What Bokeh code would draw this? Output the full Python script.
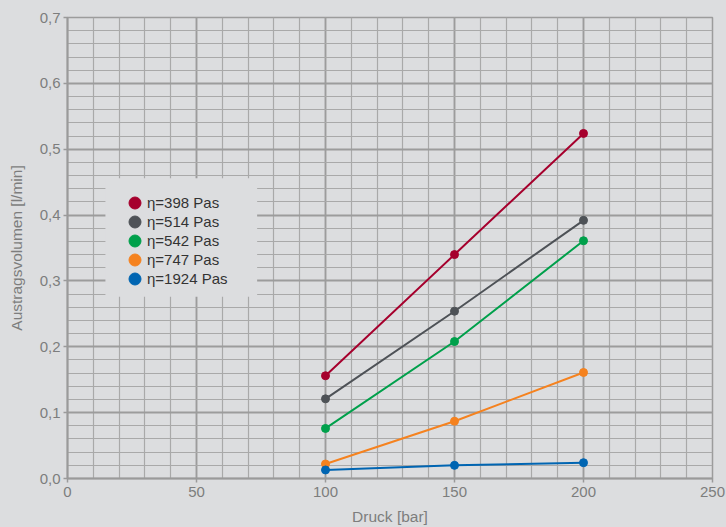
from bokeh.plotting import figure
from bokeh.models import (FixedTicker, CustomJSTickFormatter, BoxAnnotation,
                          Legend, LegendItem, Range1d)
from bokeh.embed import file_html
from bokeh.resources import INLINE

# ---- data ----
pressure = [100, 150, 200]
vol_398 = [0.156, 0.340, 0.524]
vol_514 = [0.121, 0.254, 0.392]
vol_542 = [0.076, 0.208, 0.361]
vol_747 = [0.022, 0.087, 0.161]
vol_1924 = [0.013, 0.020, 0.024]

series_labels = ["η=398 Pas", "η=514 Pas", "η=542 Pas", "η=747 Pas", "η=1924 Pas"]
series_colors = ["#a6002d", "#4e5257", "#00a04b", "#f5821f", "#0065b2"]

x_ticks = [0, 50, 100, 150, 200, 250]
x_minor = [0, 10, 20, 30, 40, 50, 60, 70, 80, 90, 100, 110, 120, 130, 140, 150,
           160, 170, 180, 190, 200, 210, 220, 230, 240, 250]
y_ticks = [0.0, 0.1, 0.2, 0.3, 0.4, 0.5, 0.6, 0.7]
y_minor = [round(i * 0.02, 2) for i in range(36)]

BG = "#dcdddf"
FONT = "Liberation Sans"
NAN = float("nan")

p = figure(frame_width=645, frame_height=461,
           min_border_left=67, min_border_top=17, min_border_right=14, min_border_bottom=49,
           x_range=Range1d(0, 250), y_range=Range1d(0, 0.7),
           output_backend="svg", toolbar_location=None,
           background_fill_color=BG, border_fill_color=BG)
p.outline_line_color = "#9c9c9c"
p.outline_line_width = 1.5

# grid
for g in (p.xgrid, p.ygrid):
    g.grid_line_color = "#9c9c9c"
    g.grid_line_width = 1.8
    g.minor_grid_line_color = "#a9a9a9"
    g.minor_grid_line_width = 1.2
p.xaxis.ticker = FixedTicker(ticks=x_ticks, minor_ticks=x_minor)
p.yaxis.ticker = FixedTicker(ticks=y_ticks, minor_ticks=y_minor)
p.yaxis.formatter = CustomJSTickFormatter(code="return tick.toFixed(1).replace('.', ',');")

for ax in (p.xaxis, p.yaxis):
    ax.axis_line_color = "#9a9a9a"
    ax.axis_line_width = 2
    ax.major_tick_line_color = "#9a9a9a"
    ax.major_tick_line_width = 1.5
    ax.major_tick_out = 4
    ax.major_tick_in = 0
    ax.minor_tick_out = 0
    ax.minor_tick_in = 0
    ax.major_label_text_font = FONT
    ax.major_label_text_font_size = "15px"
    ax.major_label_text_color = "#7d7d7d"
    ax.axis_label_text_font = FONT
    ax.axis_label_text_font_style = "normal"
    ax.axis_label_text_color = "#7d7d7d"
p.xaxis.axis_label_text_font_size = "15.5px"
p.yaxis.axis_label_text_font_size = "15.5px"
p.xaxis.axis_label = "Druck [bar]"
p.yaxis.axis_label = "Austragsvolumen [l/min]"
p.xaxis.major_label_standoff = 4
p.yaxis.major_label_standoff = 3
p.xaxis.axis_label_standoff = 8
p.yaxis.axis_label_standoff = 12

# legend background patch covering the grid
p.add_layout(BoxAnnotation(left=14.7, right=73.5, bottom=0.276, top=0.456,
                           fill_color=BG, fill_alpha=1.0, line_alpha=0))

all_series = [vol_398, vol_514, vol_542, vol_747, vol_1924]
items = []
for vals, lab, col in zip(all_series, series_labels, series_colors):
    p.line(pressure, vals, line_width=2, color=col)
    p.scatter(pressure, vals, size=8, color=col)
    proxy = p.ellipse(x=[NAN], y=[NAN], width=12, height=12,
                      width_units="screen", height_units="screen",
                      fill_color=col, line_color=col)
    items.append(LegendItem(label=lab, renderers=[proxy]))

legend = Legend(items=items, location=(60, 190), padding=0, margin=0,
                spacing=0, glyph_width=15, glyph_height=19, label_height=19,
                label_standoff=5, border_line_alpha=0, background_fill_alpha=0,
                label_text_font=FONT, label_text_font_size="15px",
                label_text_color="#333333")
p.add_layout(legend)

html = file_html(p, INLINE)
html = html.replace("<body>", '<body style="background:%s;">' % BG)
open("out.html", "w").write(html)
